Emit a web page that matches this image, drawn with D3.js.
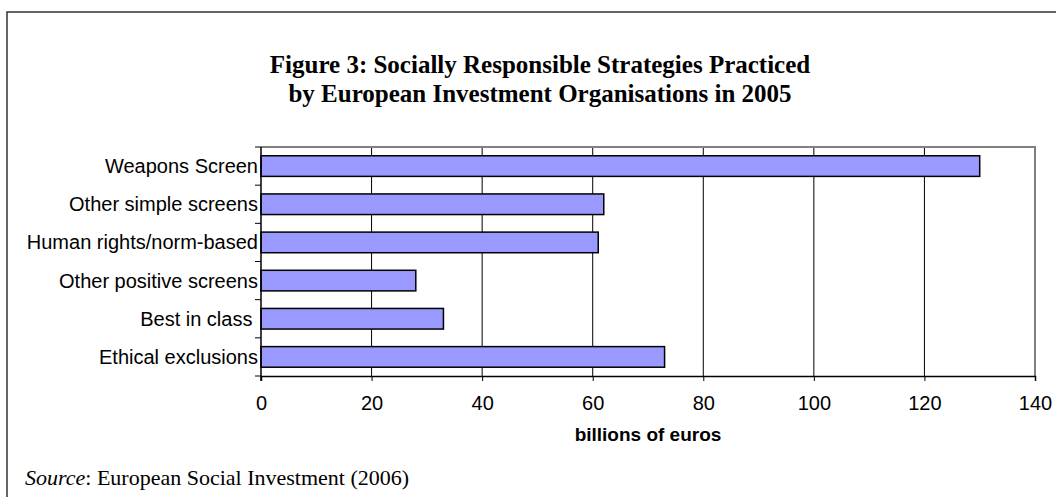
<!DOCTYPE html>
<html>
<head>
<script src="https://d3js.org/d3.v7.min.js"></script>
<style>
body { margin: 0; background: #fff; }
</style>
</head>
<body>
<div id="chart"></div>
<script>
// data
var categories = ['Weapons Screen', 'Other simple screens', 'Human rights/norm-based',
                  'Other positive screens', 'Best in class ', 'Ethical exclusions'];
var values = [130, 62, 61, 28, 33, 73];
var xTicks = [0, 20, 40, 60, 80, 100, 120, 140];

var width = 1056, height = 497;
var margin = {top: 147, right: 21, bottom: 121, left: 261};

var sans = '"Liberation Sans", Arial, sans-serif';
var serif = '"Liberation Serif", "Times New Roman", serif';

var svg = d3.select('#chart').append('svg')
    .attr('width', width)
    .attr('height', height);

// outer frame
svg.append('rect')
    .attr('x', 7).attr('y', 12)
    .attr('width', width + 10).attr('height', height)
    .attr('fill', 'none')
    .attr('stroke', '#333')
    .attr('stroke-width', 1.5);

// title
var title = svg.append('text')
    .attr('text-anchor', 'middle')
    .style('font-family', serif)
    .style('font-weight', 'bold')
    .style('font-size', '25px');
title.append('tspan').attr('x', 540).attr('y', 73).text('Figure 3: Socially Responsible Strategies Practiced');
title.append('tspan').attr('x', 540).attr('y', 102).text('by European Investment Organisations in 2005');

var x = d3.scaleLinear()
    .domain([0, 140])
    .range([margin.left, width - margin.right]);

var y = d3.scaleBand()
    .domain(categories)
    .range([margin.top, height - margin.bottom])
    .paddingInner(0.46)
    .paddingOuter(0.23);

var plotTop = margin.top, plotBottom = height - margin.bottom;

// vertical gridlines
svg.append('g')
    .selectAll('line')
    .data(xTicks.slice(1, -1))
    .enter().append('line')
        .attr('x1', function(d) { return x(d); })
        .attr('x2', function(d) { return x(d); })
        .attr('y1', plotTop)
        .attr('y2', plotBottom)
        .attr('stroke', '#000')
        .attr('stroke-width', 1);

// plot top and right border (gray)
svg.append('path')
    .attr('d', 'M' + x(0) + ',' + plotTop + 'H' + x(140) + 'V' + plotBottom)
    .attr('fill', 'none')
    .attr('stroke', '#808080')
    .attr('stroke-width', 2);

// bars
svg.append('g')
    .selectAll('rect')
    .data(values)
    .enter().append('rect')
        .attr('x', x(0))
        .attr('y', function(d, i) { return y(categories[i]); })
        .attr('width', function(d) { return x(d) - x(0); })
        .attr('height', y.bandwidth())
        .attr('fill', '#9999FF')
        .attr('stroke', '#000')
        .attr('stroke-width', 1.5);

// x axis
var xAxis = svg.append('g')
    .attr('transform', 'translate(0,' + plotBottom + ')')
    .call(d3.axisBottom(x).tickValues(xTicks).tickSize(5).tickSizeOuter(5).tickPadding(15));
xAxis.select('.domain').attr('stroke', '#000').attr('stroke-width', 1.5);
xAxis.selectAll('.tick line').attr('stroke', '#000');
xAxis.selectAll('text')
    .style('font-family', sans)
    .style('font-size', '20px')
    .attr('fill', '#000');

// y axis: ticks at band boundaries
var step = y.step();
var boundaries = d3.range(categories.length + 1).map(function(i) { return plotTop + i * step; });
svg.append('line')
    .attr('x1', x(0)).attr('x2', x(0))
    .attr('y1', plotTop).attr('y2', plotBottom + 5)
    .attr('stroke', '#000').attr('stroke-width', 1.5);
svg.append('g')
    .selectAll('line')
    .data(boundaries)
    .enter().append('line')
        .attr('x1', x(0) - 6).attr('x2', x(0))
        .attr('y1', function(d) { return d; })
        .attr('y2', function(d) { return d; })
        .attr('stroke', '#000');
svg.append('g')
    .selectAll('text')
    .data(categories)
    .enter().append('text')
        .attr('x', x(0) - 3)
        .attr('y', function(d) { return y(d) + y.bandwidth() / 2; })
        .attr('dy', '0.35em')
        .attr('text-anchor', 'end')
        .style('white-space', 'pre')
        .style('font-family', sans)
        .style('font-size', '20px')
        .text(function(d) { return d; });

// axis title
svg.append('text')
    .attr('x', (x(0) + x(140)) / 2)
    .attr('y', 441)
    .attr('text-anchor', 'middle')
    .style('font-family', sans)
    .style('font-weight', 'bold')
    .style('font-size', '19px')
    .text('billions of euros');

// source note
var src = svg.append('text')
    .attr('x', 25)
    .attr('y', 485)
    .style('font-family', serif)
    .style('font-size', '22px');
src.append('tspan').style('font-style', 'italic').text('Source');
src.append('tspan').text(': European Social Investment (2006)');
</script>
</body>
</html>
